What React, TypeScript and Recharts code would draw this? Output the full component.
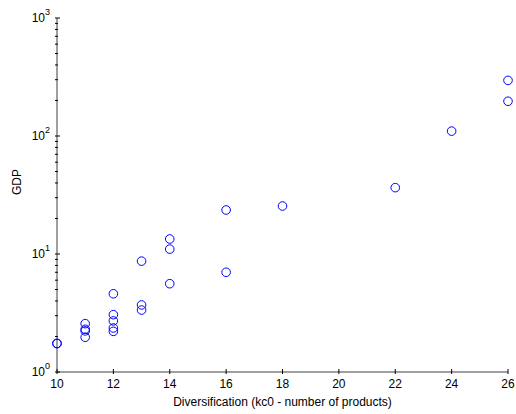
import { Scatter, ScatterChart, XAxis, YAxis } from "recharts";

// diversification (number of products) per country
const diversification = [
  10, 10, 11, 11, 11, 11, 12, 12, 12, 12, 12, 13, 13, 13, 14, 14, 14, 16, 16,
  18, 22, 24, 26, 26,
];
const gdp = [
  1.74, 1.75, 2.57, 2.3, 2.23, 1.97, 4.6, 3.06, 2.71, 2.36, 2.21, 8.7, 3.7,
  3.35, 13.4, 11, 5.6, 23.6, 7, 25.5, 36.5, 110, 296, 197,
];

const xTicks = [10, 12, 14, 16, 18, 20, 22, 24, 26];
const decades = [1, 10, 100, 1000];
const minorSteps = [2, 3, 4, 5, 6, 7, 8, 9];

const points = diversification.map((d, i) => ({ x: d, y: gdp[i] }));

const yTicks: number[] = [];
decades.forEach((d, i) => {
  yTicks.push(d);
  if (i < decades.length - 1) minorSteps.forEach((m) => yTicks.push(d * m));
});

const FONT = "'Liberation Sans', Arial, sans-serif";

const YTick = (props: any) => {
  const { x, y, payload } = props;
  const v = payload.value;
  const exp = Math.round(Math.log10(v));
  const major = Math.abs(Math.pow(10, exp) - v) < 1e-6;
  return (
    <g>
      <line x1={x} x2={x + (major ? 5 : 3)} y1={y} y2={y} stroke="#000" strokeWidth={1} />
      {major && (
        <text x={x - 5} y={y + 4} textAnchor="end" fontSize={12} fontFamily={FONT} fill="#000">
          10
          <tspan dy={-7} fontSize={9}>
            {exp}
          </tspan>
        </text>
      )}
    </g>
  );
};

const XTick = (props: any) => {
  const { x, y, payload } = props;
  return (
    <g>
      <line x1={x} x2={x} y1={y} y2={y - 5} stroke="#000" strokeWidth={1} />
      <text x={x} y={y + 14} textAnchor="middle" fontSize={12} fontFamily={FONT} fill="#000">
        {payload.value}
      </text>
    </g>
  );
};

const Ring = (props: any) => (
  <circle cx={props.cx} cy={props.cy} r={4.3} fill="none" stroke="#0000ff" strokeWidth={1} />
);

export default function App() {
  return (
    <div style={{ position: "absolute", left: 0, top: 0, width: 516, height: 414, background: "#fff" }}>
      <ScatterChart width={516} height={414} margin={{ top: 18, right: 8, bottom: 0, left: 17 }}>
        <XAxis
          type="number"
          dataKey="x"
          domain={[10, 26]}
          ticks={xTicks}
          interval={0}
          height={42}
          tickSize={0}
          tickLine={false}
          tick={<XTick />}
          axisLine={{ stroke: "#7f7f7f", strokeWidth: 1.5 }}
          label={{
            value: "Diversification (kc0 - number of products)",
            position: "insideBottom",
            offset: 8,
            fontSize: 12,
            fontFamily: FONT,
            fill: "#000",
          }}
        />
        <YAxis
          type="number"
          dataKey="y"
          scale="log"
          domain={[1, 1000]}
          ticks={yTicks}
          interval={0}
          allowDataOverflow
          width={40}
          tickSize={0}
          tickLine={false}
          tick={<YTick />}
          axisLine={{ stroke: "#7f7f7f", strokeWidth: 1.5 }}
          label={{
            value: "GDP",
            angle: -90,
            position: "insideLeft",
            offset: 0,
            fontSize: 12,
            fontFamily: FONT,
            fill: "#000",
          }}
        />
        <Scatter data={points} shape={<Ring />} isAnimationActive={false} />
      </ScatterChart>
    </div>
  );
}
